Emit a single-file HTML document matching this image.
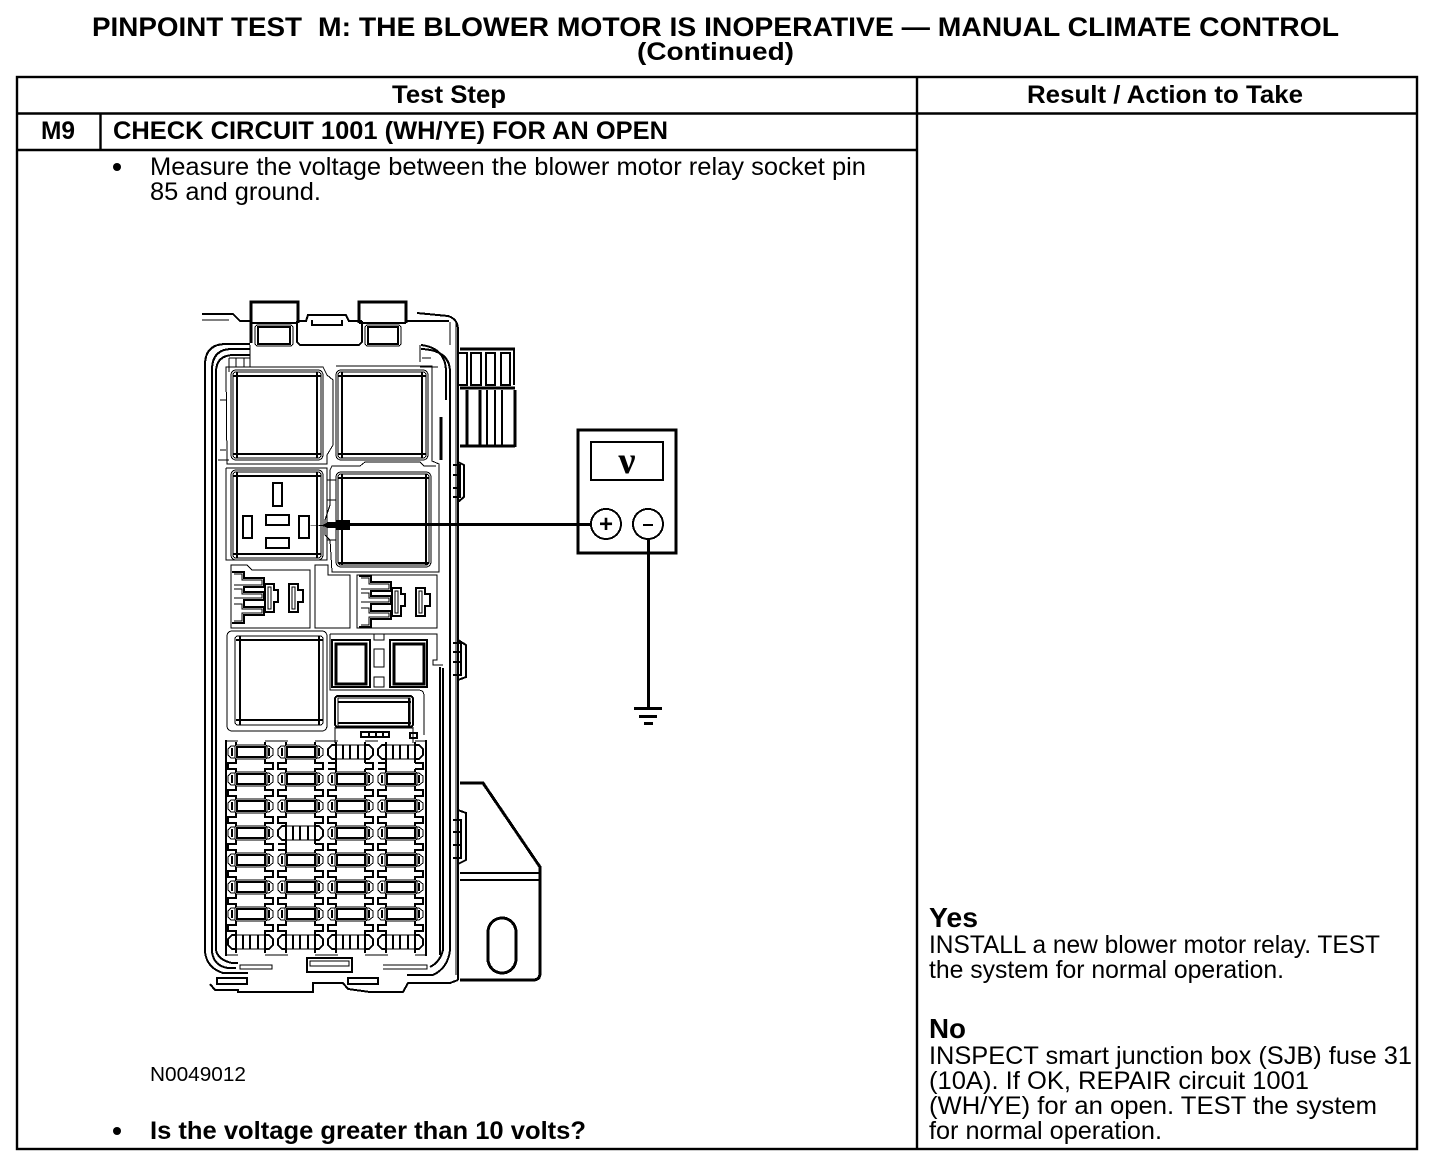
<!DOCTYPE html>
<html>
<head>
<meta charset="utf-8">
<style>
html,body{margin:0;padding:0;background:#fff;width:1456px;height:1168px;overflow:hidden}
svg{display:block}
text{font-family:"Liberation Sans",sans-serif;fill:#000;white-space:pre}
.b{font-weight:bold}
.d{fill:none;stroke:#000;stroke-width:1}
.d2{fill:none;stroke:#000;stroke-width:2}
.d3{fill:none;stroke:#000;stroke-width:3}
</style>
</head>
<body>
<svg width="1456" height="1168" viewBox="0 0 1456 1168" xmlns="http://www.w3.org/2000/svg">
<defs>
<g id="fuse">
  <path class="d2" d="M9 0V3M38 0V3"/>
  <rect x="8" y="3" width="32" height="14" rx="2" class="d"/>
  <rect x="10" y="5" width="28" height="10" class="d2"/>
  <path class="d" d="M8 4H4L1 7V13L4 16H8M39 4H42L46 7V13L42 16H39"/>
  <path class="d2" d="M5 6V14M42 6V14"/>
  <path class="d2" d="M9 17V21H1V27H9V30M38 17V21H46V27H38V30"/>
</g>
<g id="fuseb">
  <path class="d2" d="M9 0V3H5L1 7V13L5 17H9V21M38 0V3H42L46 7V13L42 17H38V21"/>
  <path class="d2" d="M9 3V17M38 3V17"/>
  <path class="d" d="M9 3H38M9 17H38"/>
  <path class="d2" d="M16 3V17M23 3V17M31 3V17"/>
</g>
<g id="relay">
  <rect x="0" y="0" width="92" height="90" rx="5" class="d"/>
  <rect x="2" y="2" width="88" height="86" rx="3" class="d"/>
  <path class="d2" d="M2 6H90M2 84H90M6 2V88M86 2V88"/>
</g>
<g id="conn">
  <path class="d2" d="M1 7H13V13H33V22H13V27H33V35H13V42H33V50H13V58H1"/>
  <path class="d" d="M3 9H11V15H31V20H3M3 24H11V29H31V33H3M3 39H11V44H31V48H11V56H3"/>
  <path class="d2" d="M34 19H43V25H47V37H43V47H34Z"/>
  <path class="d" d="M37 22H40V44H37Z"/>
  <path class="d2" d="M58 19H67V25H72V37H67V47H58Z"/>
  <path class="d" d="M61 22H64V44H61Z"/>
</g>
</defs>

<!-- Title -->
<text class="b" x="92" y="36" font-size="27" textLength="210" lengthAdjust="spacingAndGlyphs">PINPOINT TEST</text>
<text class="b" x="318" y="36" font-size="27" textLength="1021" lengthAdjust="spacingAndGlyphs">M: THE BLOWER MOTOR IS INOPERATIVE — MANUAL CLIMATE CONTROL</text>
<text class="b" x="637" y="60" font-size="25" textLength="157" lengthAdjust="spacingAndGlyphs">(Continued)</text>

<!-- Table -->
<g fill="none" stroke="#000" stroke-width="2.4">
  <rect x="17" y="77" width="1400" height="1072"/>
  <path d="M17 113.500H1417M917 77V1149M17 150H917M100.500 113V150" />
</g>
<text class="b" x="392" y="103" font-size="25" textLength="114" lengthAdjust="spacingAndGlyphs">Test Step</text>
<text class="b" x="1027" y="103" font-size="25" textLength="276" lengthAdjust="spacingAndGlyphs">Result / Action to Take</text>
<text class="b" x="41" y="139" font-size="25" textLength="34" lengthAdjust="spacingAndGlyphs">M9</text>
<text class="b" x="113" y="139" font-size="25" textLength="555" lengthAdjust="spacingAndGlyphs">CHECK CIRCUIT 1001 (WH/YE) FOR AN OPEN</text>

<circle cx="117" cy="167" r="4"/>
<text x="150" y="175" font-size="25" textLength="716" lengthAdjust="spacingAndGlyphs">Measure the voltage between the blower motor relay socket pin</text>
<text x="150" y="200" font-size="25" textLength="171" lengthAdjust="spacingAndGlyphs">85 and ground.</text>
<text x="150" y="1081" font-size="20" textLength="96" lengthAdjust="spacingAndGlyphs">N0049012</text>
<circle cx="117" cy="1131" r="4"/>
<text class="b" x="150" y="1139" font-size="25" textLength="436" lengthAdjust="spacingAndGlyphs">Is the voltage greater than 10 volts?</text>

<text class="b" x="929" y="927" font-size="28" textLength="49" lengthAdjust="spacingAndGlyphs">Yes</text>
<text x="929" y="953" font-size="25" textLength="451" lengthAdjust="spacingAndGlyphs">INSTALL a new blower motor relay. TEST</text>
<text x="929" y="978" font-size="25" textLength="355" lengthAdjust="spacingAndGlyphs">the system for normal operation.</text>
<text class="b" x="929" y="1038" font-size="28" textLength="37" lengthAdjust="spacingAndGlyphs">No</text>
<text x="929" y="1064" font-size="25" textLength="483" lengthAdjust="spacingAndGlyphs">INSPECT smart junction box (SJB) fuse 31</text>
<text x="929" y="1089" font-size="25" textLength="380" lengthAdjust="spacingAndGlyphs">(10A). If OK, REPAIR circuit 1001</text>
<text x="929" y="1114" font-size="25" textLength="448" lengthAdjust="spacingAndGlyphs">(WH/YE) for an open. TEST the system</text>
<text x="929" y="1139" font-size="25" textLength="233" lengthAdjust="spacingAndGlyphs">for normal operation.</text>

<g shape-rendering="crispEdges">
<!-- Bracket -->
<path class="d3" d="M460 783H483L540 867V973Q540 980 533 980H460"/>
<path class="d2" d="M460 873H540M460 880H540"/>
<rect x="488" y="918" width="28" height="55" rx="14" class="d3"/>

<!-- Right comb connector -->
<path class="d3" d="M460 349H515M460 388H515M460 446H515"/>
<path class="d2" d="M459 353H467V385H459M471 353H481V385H471ZM486 353H495V385H486ZM501 353H510V385H501ZM514 349V385"/>
<path class="d3" d="M467 390V446M480 390V446M515 390V447"/>
<path class="d2" d="M487 390V446M495 390V446M502 390V446"/>

<!-- Main housing -->
<path class="d2" d="M205 952V365Q205 344 226 344H250M458 980V330Q458 319 448 316L417 313M205 952Q207 968 223 973H248"/>
<path class="d2" d="M212 952V370Q212 349 232 349H250M216 950V372Q216 355 234 355H250"/>
<path class="d2" d="M421 345Q446 348 446 372V400M421 349Q450 350 450 372V950Q448 968 433 975H407"/>
<path class="d2" d="M443 668V950Q440 962 430 967M440 667V955"/>
<path class="d2" d="M212 952Q214 966 228 968H236M216 950Q218 960 232 963H238"/>
<path class="d" d="M456 322V975M450 322V345"/>
<path class="d2" d="M210 984L215 990H238V992H313V983H343L348 989L370 992H403L408 983H450L458 980"/>
<rect x="217" y="978" width="30" height="6" class="d2"/>
<rect x="348" y="978" width="30" height="6" class="d2"/>

<!-- Top tabs -->
<path class="d2" d="M202 314H233L240 321H251"/>
<path class="d" d="M202 320H229"/>
<path class="d3" d="M251 343V302H298V323M359 323V302H406V323"/>
<path class="d2" d="M251 323H298M359 323H406"/>
<rect x="255" y="325" width="38" height="21" rx="3" class="d"/>
<rect x="258" y="327" width="32" height="17" class="d2"/>
<rect x="365" y="325" width="36" height="21" rx="3" class="d"/>
<rect x="368" y="327" width="30" height="17" class="d2"/>
<path class="d2" d="M297 321H306L308 315H346L349 321H362M297 321V342L300 345H359L362 342V321"/>
<path class="d2" d="M312 320V325H342V320"/>
<path class="d2" d="M406 321H449"/>
<path class="d" d="M250 345V367H230M420 345V362M420 367H438"/>
<path class="d" d="M229 358H250M229 372V358M236 358V367M244 358V367M422 358H431"/>

<!-- Relays -->
<use href="#relay" x="231" y="370"/>
<use href="#relay" x="336" y="370"/>
<use href="#relay" x="231" y="470"/>
<rect x="336" y="472" width="95" height="95" rx="5" class="d"/>
<rect x="338" y="474" width="91" height="91" rx="3" class="d"/>
<path class="d2" d="M338 478H429M338 563H429M342 474V565M426 474V565"/>
<path class="d" d="M226 367H323L327 375L333 380V445L327 455V464H227L226 367ZM336 366H432V461L439 464V572H332L330 540L325 535V520L330 505L330 470L332 466H360L365 462H420L424 466H436M226 468H327V560H226V468M220 400H226M220 450H226M218 460H229M327 480H336M327 500H336M327 540H336"/>
<path class="d3" d="M441 417V460"/>

<!-- Pins -->
<rect x="273" y="483" width="9" height="23" class="d2"/>
<rect x="243" y="516" width="9" height="22" class="d2"/>
<rect x="266" y="515" width="23" height="10" class="d2"/>
<rect x="266" y="538" width="23" height="10" class="d2"/>
<rect x="299" y="516" width="10" height="22" class="d2"/>

<!-- Side clips -->
<path class="d2" d="M458 462L464 465V497L458 502M453 465H460V497H453M453 475H460M453 488H460"/>
<path class="d2" d="M458 640L466 645V677L458 680M453 643H461V675H453M453 652H461M453 662H461"/>
<path class="d2" d="M458 810L466 813V860L458 864M453 820H461V858H453M453 832H461M453 845H461"/>

<!-- Small connectors -->
<use href="#conn" x="231" y="565"/>
<use href="#conn" x="358" y="569"/>
<path class="d" d="M231 565H247L252 570H310V628H231Z"/>
<path class="d" d="M357 575H437V628H357Z"/>
<path class="d" d="M315 565H328V575H350V628H315Z"/>

<!-- Lower relay block -->
<rect x="227" y="631" width="100" height="100" rx="5" class="d"/>
<rect x="235" y="636" width="88" height="89" rx="3" class="d"/>
<path class="d2" d="M236 640H323M236 720H323M240 636V725M319 636V725"/>
<rect x="332" y="640" width="38" height="47" class="d2"/>
<rect x="336" y="644" width="30" height="40" class="d3"/>
<rect x="390" y="640" width="37" height="47" class="d2"/>
<rect x="394" y="644" width="30" height="40" class="d3"/>
<path class="d" d="M330 634H437V660H433V665H443M330 634V690H418Q424 690 424 696V735M374 634V640H384V634M374 649H384V667H374ZM374 677H384V687H374Z"/>
<rect x="335" y="696" width="78" height="31" rx="3" class="d2"/>
<rect x="338" y="698" width="72" height="28" class="d"/>
<path class="d2" d="M409 698V726M338 702H411M338 723H411"/>
<path class="d" d="M335 727V743M413 727V743M335 728H413"/>
<rect x="361" y="732" width="28" height="5" class="d2"/>
<path class="d2" d="M369 732V737M376 732V737M383 732V737M410 733H417V738H410Z"/>

<!-- Fuse grid -->
<path class="d2" d="M226 740V956M426 740V956"/>
<path class="d" d="M226 741H238M265 741H288M315 741H338M365 741H378M415 741H426M226 955H238M265 955H288M315 955H338M365 955H388M415 955H426"/>
<g>
  <use href="#fuse" x="227" y="742"/><use href="#fuse" x="277" y="742"/><use href="#fuseb" x="327" y="742"/><use href="#fuseb" x="377" y="742"/>
  <path class="d2" d="M328 763H336V769H328M365 763H373V769H365M378 763H386V769H378M415 763H423V769H415"/>
  <use href="#fuse" x="227" y="769"/><use href="#fuse" x="277" y="769"/><use href="#fuse" x="327" y="769"/><use href="#fuse" x="377" y="769"/>
  <use href="#fuse" x="227" y="796"/><use href="#fuse" x="277" y="796"/><use href="#fuse" x="327" y="796"/><use href="#fuse" x="377" y="796"/>
  <use href="#fuse" x="227" y="823"/><use href="#fuseb" x="277" y="823"/><use href="#fuse" x="327" y="823"/><use href="#fuse" x="377" y="823"/>
  <path class="d2" d="M278 844H286V850H278M315 844H323V850H315"/>
  <use href="#fuse" x="227" y="850"/><use href="#fuse" x="277" y="850"/><use href="#fuse" x="327" y="850"/><use href="#fuse" x="377" y="850"/>
  <use href="#fuse" x="227" y="877"/><use href="#fuse" x="277" y="877"/><use href="#fuse" x="327" y="877"/><use href="#fuse" x="377" y="877"/>
  <use href="#fuse" x="227" y="904"/><use href="#fuse" x="277" y="904"/><use href="#fuse" x="327" y="904"/><use href="#fuse" x="377" y="904"/>
  <use href="#fuseb" x="227" y="932"/><use href="#fuseb" x="277" y="932"/><use href="#fuseb" x="327" y="932"/><use href="#fuseb" x="377" y="932"/>
</g>
<path class="d" d="M240 965H272V969H240ZM383 965H427V969H383"/>
<rect x="307" y="958" width="45" height="14" class="d2"/>
<path class="d" d="M310 961H349V966H310Z"/>

<!-- Probe and meter -->
<path d="M306 525H323L328 522H336V520H350V530H336V528H328L323 526Z"/>
<rect x="350" y="523" width="240" height="3"/>
<rect x="578" y="430" width="98" height="123" class="d3"/>
<rect x="591" y="442" width="72" height="38" class="d2"/>
<circle cx="606" cy="524" r="15" fill="#fff" stroke="#000" stroke-width="2"/>
<circle cx="648" cy="524" r="15" fill="#fff" stroke="#000" stroke-width="2"/>
<rect x="643" y="524" width="10" height="2"/>
<rect x="647" y="539" width="3" height="168"/>
<rect x="634" y="707" width="28" height="3"/>
<rect x="639" y="715" width="18" height="3"/>
<rect x="644" y="722" width="9" height="3"/>
</g>
<text x="627" y="473" font-size="38" text-anchor="middle" class="b" style="font-family:'Liberation Serif',serif">ν</text>
<text x="606" y="532" font-size="24" class="b" text-anchor="middle">+</text>
</svg>
</body>
</html>
